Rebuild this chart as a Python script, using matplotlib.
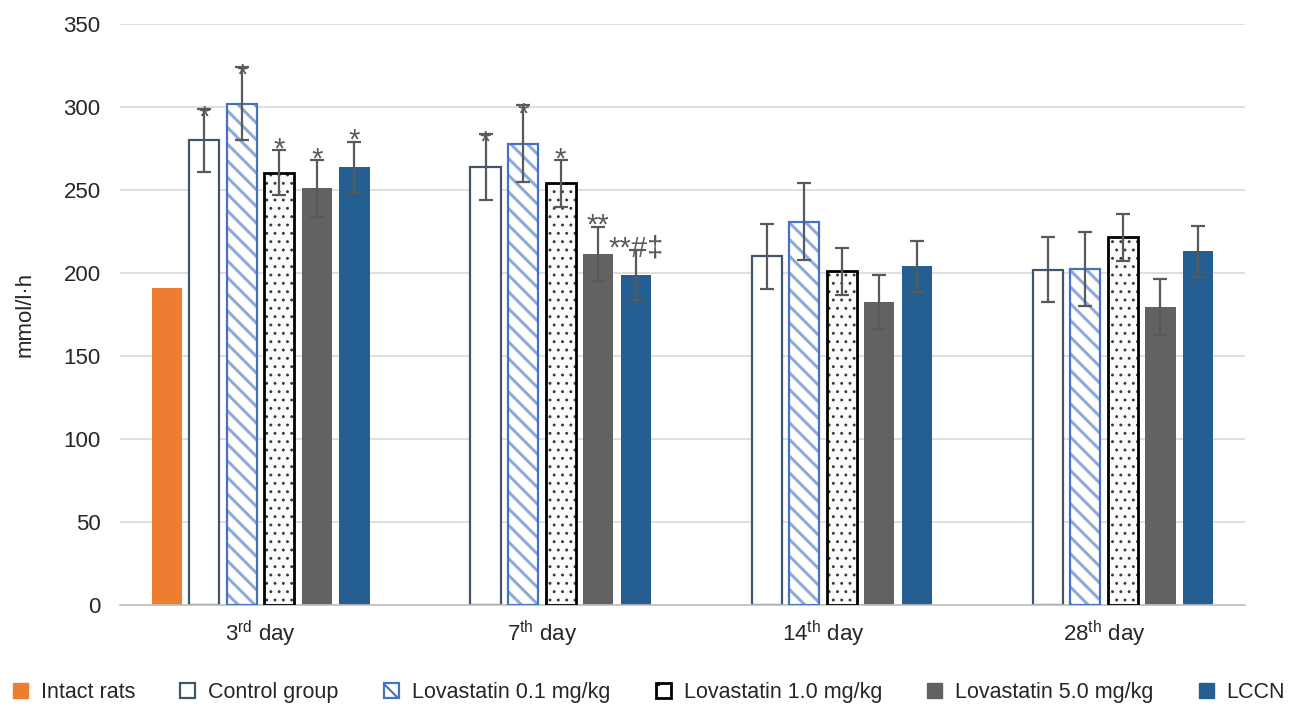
import matplotlib
matplotlib.use('Agg')
import matplotlib.pyplot as plt
import numpy as np
from matplotlib.patches import Patch

plt.rcParams['font.family'] = ['Liberation Sans', 'DejaVu Sans']
plt.rcParams['mathtext.fontset'] = 'custom'
plt.rcParams['mathtext.rm'] = 'Liberation Sans'

days = [r'3$^{\rm rd}$ day', r'7$^{\rm th}$ day', r'14$^{\rm th}$ day', r'28$^{\rm th}$ day']
groups = ['Intact rats', 'Control group', 'Lovastatin 0.1 mg/kg',
          'Lovastatin 1.0 mg/kg', 'Lovastatin 5.0 mg/kg', 'LCCN']

# mean values, mmol/l*h (intact rats measured once)
intact = [191, np.nan, np.nan, np.nan]
control = [280, 264, 210, 202]
lova01 = [302, 278, 231, 202.5]
lova10 = [260.5, 254, 201, 221.5]
lova50 = [251, 211.5, 182.5, 179.5]
lccn = [264, 199, 204, 213]

err_control = [19, 20, 19.5, 19.5]
err_lova01 = [22, 23, 23, 22.5]
err_lova10 = [13.5, 14, 14, 14]
err_lova50 = [17, 16.5, 16.5, 17]
err_lccn = [15, 15, 15.5, 15.5]

sig_control = ['*', '*', '', '']
sig_lova01 = ['*', '*', '', '']
sig_lova10 = ['*', '*', '', '']
sig_lova50 = ['*', '**', '', '']
sig_lccn = ['*', '**#\u2021', '', '']

values = [intact, control, lova01, lova10, lova50, lccn]
errors = [None, err_control, err_lova01, err_lova10, err_lova50, err_lccn]
marks = [None, sig_control, sig_lova01, sig_lova10, sig_lova50, sig_lccn]

styles = [
    dict(color='#ED7D31', edgecolor='#ED7D31', hatch=None, lw=0),
    dict(color='white', edgecolor='#44546A', hatch=None, lw=1.6),
    dict(color='white', edgecolor='#8EAADB', hatch='\\\\', hlw=2.2, lw=1.6, outline='#4472C4'),
    dict(color='#FBFBFB', edgecolor='#3A3A3A', hatch='..', hlw=0.9, lw=2.0, outline='black'),
    dict(color='#626262', edgecolor='#626262', hatch=None, lw=0),
    dict(color='#255E91', edgecolor='#255E91', hatch=None, lw=0),
]
# star sits on the cap for the first two treated groups, above it for the rest
star_lift = [0, -12, -12, -5, -5, -5]

fig = plt.figure(figsize=(12.98, 7.08), dpi=100)
ax = fig.add_axes([0.0925, 0.1455, 0.8665, 0.8205])

x = np.arange(len(days))
pitch = 0.1335
width = 0.107

for i, (vals, st) in enumerate(zip(values, styles)):
    pos = x + (i - 2.5) * pitch
    if st['hatch']:
        with plt.rc_context({'hatch.linewidth': st['hlw']}):
            bars = ax.bar(pos, vals, width, color=st['color'], edgecolor=st['edgecolor'],
                          hatch=st['hatch'], linewidth=0, zorder=2)
            for b in bars:
                if hasattr(b, 'set_hatch_linewidth'):
                    b.set_hatch_linewidth(st['hlw'])
        ax.bar(pos, vals, width, fill=False, edgecolor=st['outline'],
               linewidth=st['lw'], zorder=3)
    else:
        ax.bar(pos, vals, width, color=st['color'], edgecolor=st['edgecolor'],
               linewidth=st['lw'], zorder=2)
    if errors[i] is not None:
        ax.errorbar(pos, vals, yerr=errors[i], fmt='none', ecolor='#595959',
                    elinewidth=1.6, capsize=5, capthick=1.6, zorder=4)
        for p, v, e, m in zip(pos, vals, errors[i], marks[i]):
            if m:
                ax.annotate(m, (p, v + e), xytext=(0, star_lift[i]),
                            textcoords='offset points', ha='center',
                            va='baseline', fontsize=21, color='#595959',
                            zorder=5)

ax.set_xlim(-0.5, 3.5)
ax.set_ylim(0, 350)
ax.set_yticks(np.arange(0, 351, 50))
ax.set_xticks(x)
ax.set_xticklabels(days)
ax.tick_params(axis='both', length=0, labelsize=16, colors='#262626')
ax.tick_params(axis='y', pad=14)
ax.tick_params(axis='x', pad=10)
ax.grid(axis='y', color='#D9D9D9', linewidth=1.2, zorder=0)
ax.set_axisbelow(True)
for side in ['top', 'right', 'left']:
    ax.spines[side].set_visible(False)
ax.spines['bottom'].set_color('#BFBFBF')
ax.spines['bottom'].set_linewidth(1.2)
ax.set_ylabel('mmol/l\u00b7h', fontsize=16, color='#262626', labelpad=20)

with plt.rc_context({'hatch.linewidth': 1.5}):
    handles = [
        Patch(facecolor='#ED7D31', edgecolor='#ED7D31'),
        Patch(facecolor='white', edgecolor='#44546A', linewidth=1.6),
        Patch(facecolor='white', edgecolor='#4472C4', hatch='\\\\', linewidth=1.6),
        Patch(facecolor='white', edgecolor='black', hatch='.', linewidth=2.0),
        Patch(facecolor='#626262', edgecolor='#626262'),
        Patch(facecolor='#255E91', edgecolor='#255E91'),
    ]
    fig.legend(handles, groups, loc='center', bbox_to_anchor=(0.5, 0.022), ncol=6,
               frameon=False, fontsize=15.5, handlelength=0.7, handleheight=0.7,
               handletextpad=0.6, columnspacing=2.1, labelcolor='#262626')

fig.savefig('out.png', dpi=100)
